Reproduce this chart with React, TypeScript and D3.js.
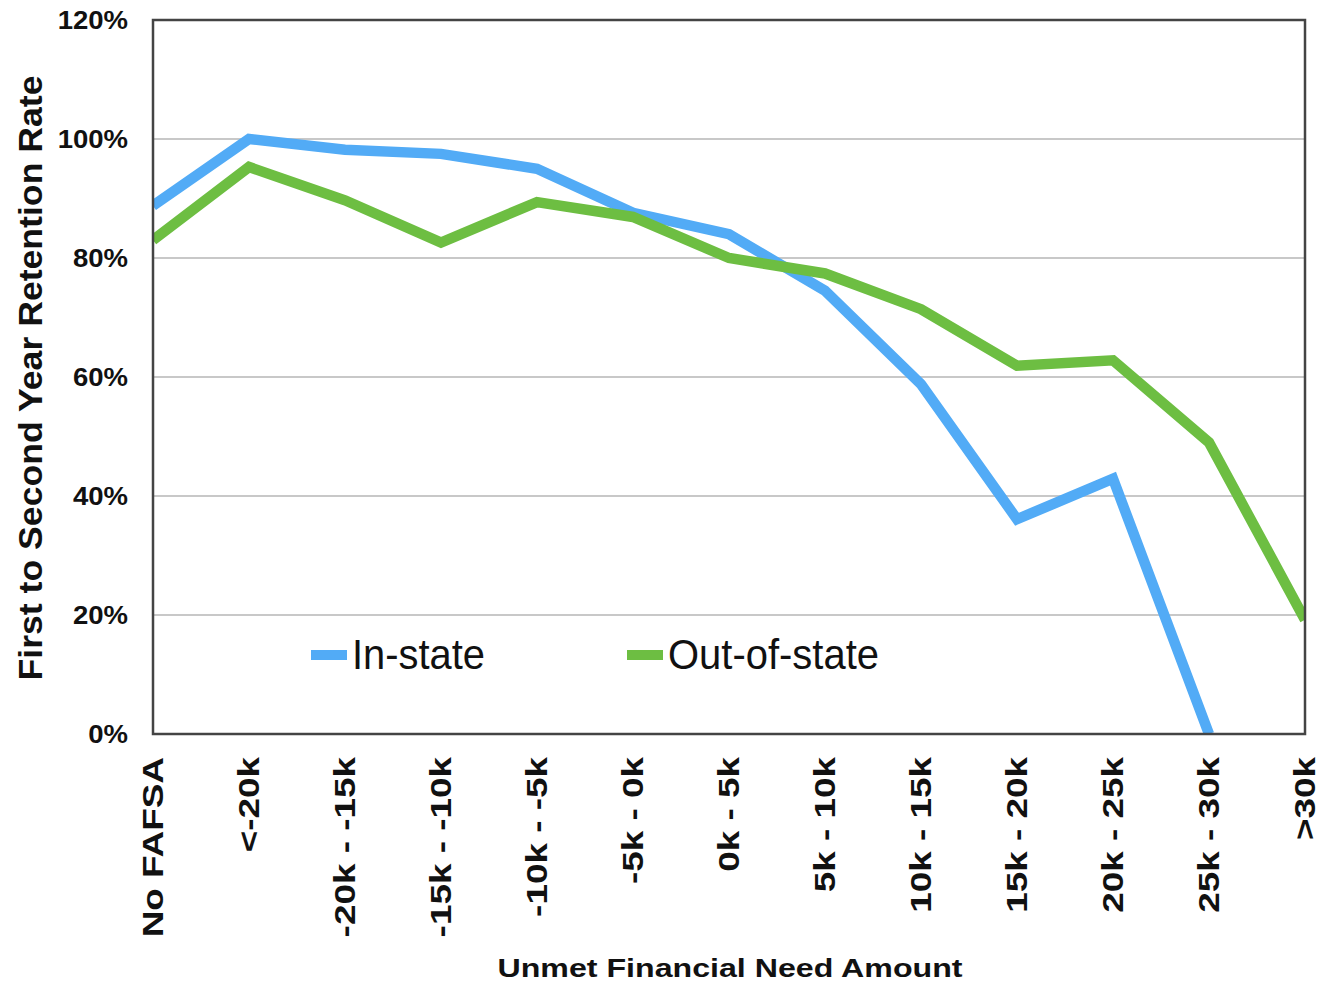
import React from "react";
import * as d3 from "d3";

const categories = [
  "No FAFSA", "<-20k", "-20k - -15k", "-15k - -10k", "-10k - -5k", "-5k - 0k",
  "0k - 5k", "5k - 10k", "10k - 15k", "15k - 20k", "20k - 25k", "25k - 30k", ">30k",
];
const inState: (number | null)[] = [88.8, 100, 98.2, 97.5, 95, 87.6, 84, 74.5, 58.8, 36.1, 42.9, 0, null];
const outOfState: (number | null)[] = [83, 95.3, 89.7, 82.6, 89.4, 86.9, 80, 77.4, 71.4, 61.9, 62.8, 49, 19.2];
const yTicks = [0, 20, 40, 60, 80, 100, 120];
const seriesNames = ["In-state", "Out-of-state"];
const seriesColors = ["#52ABF6", "#6DBE42"];

const W = 1320, H = 985;
const plot = { left: 153, right: 1305, top: 20, bottom: 734 };

export default function App() {
  const x = d3.scalePoint<string>().domain(categories).range([plot.left, plot.right]);
  const y = d3.scaleLinear().domain([0, 120]).range([plot.bottom, plot.top]);
  const line = d3
    .line<number | null>()
    .defined((d) => d !== null)
    .x((_, i) => x(categories[i]) as number)
    .y((d) => y(d as number));
  const series = [inState, outOfState];
  const font = "'Liberation Sans', Arial, sans-serif";

  return (
    <svg width={W} height={H} style={{ position: "absolute", left: 0, top: 0 }} fontFamily={font}>
      <rect width={W} height={H} fill="#fff" />
      <defs>
        <clipPath id="pc">
          <rect x={plot.left} y={plot.top} width={plot.right - plot.left} height={plot.bottom - plot.top} />
        </clipPath>
      </defs>
      {yTicks.map((t) => (
        <line key={t} x1={plot.left} x2={plot.right} y1={y(t)} y2={y(t)} stroke="#c8c8c8" strokeWidth={2} />
      ))}
      {yTicks.map((t) => (
        <text key={"l" + t} transform={`translate(128,${y(t)}) scale(1.1,1)`} textAnchor="end" dy="0.36em" fontSize={25} fontWeight="bold" fill="#111">
          {t + "%"}
        </text>
      ))}
      <g clipPath="url(#pc)">
        {series.map((s, i) => (
          <path key={i} d={line(s) || ""} fill="none" stroke={seriesColors[i]} strokeWidth={10.5} strokeLinejoin="miter" />
        ))}
      </g>
      <rect x={plot.left} y={plot.top} width={plot.right - plot.left} height={plot.bottom - plot.top} fill="none" stroke="#444" strokeWidth={2.5} />
      {categories.map((c) => (
        <text key={c} transform={`translate(${x(c)},757) rotate(-90) scale(1.23,1)`} textAnchor="end" dy="0.34em" fontSize={30} fontWeight="bold" fill="#111">
          {c}
        </text>
      ))}
      <text x={730} y={977} textAnchor="middle" fontSize={26} fontWeight="bold" fill="#111" textLength={465} lengthAdjust="spacingAndGlyphs">
        Unmet Financial Need Amount
      </text>
      <text transform="translate(42,378) rotate(-90)" textAnchor="middle" fontSize={33} fontWeight="bold" fill="#111" textLength={605} lengthAdjust="spacingAndGlyphs">
        First to Second Year Retention Rate
      </text>
      {seriesNames.map((n, i) => {
        const sx = [311, 627][i];
        return (
          <g key={n}>
            <rect x={sx} y={650} width={36} height={10} fill={seriesColors[i]} />
            <text x={sx + 41} y={669} fontSize={42} fill="#111" textLength={[133, 211][i]} lengthAdjust="spacingAndGlyphs">
              {n}
            </text>
          </g>
        );
      })}
    </svg>
  );
}
